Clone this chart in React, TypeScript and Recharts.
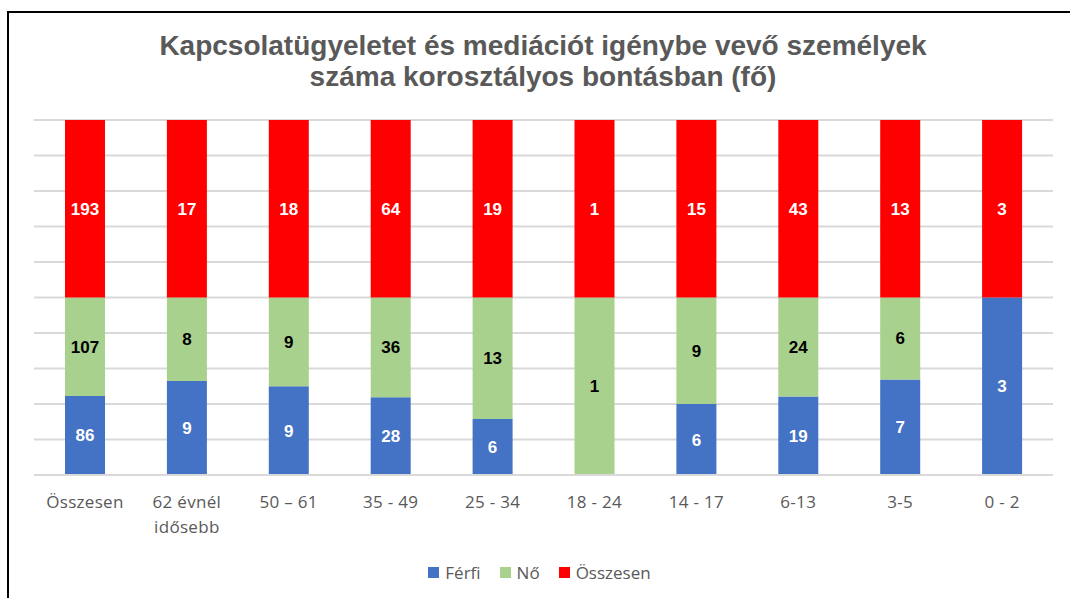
import React from 'react';
import {Bar, BarChart, CartesianGrid, LabelList, XAxis, YAxis} from 'recharts';

const categories = ['Összesen', '62 évnél\nidősebb', '50 – 61', '35 - 49', '25 - 34', '18 - 24', '14 - 17', '6-13', '3-5', '0 - 2'];
const ferfi = [86, 9, 9, 28, 6, 0, 6, 19, 7, 3];
const no = [107, 8, 9, 36, 13, 1, 9, 24, 6, null];
const osszesen = [193, 17, 18, 64, 19, 1, 15, 43, 13, 3];

const series = [
    {key: 'ferfi', name: 'Férfi', color: '#4472C4', labelColor: '#fff'},
    {key: 'no', name: 'Nő', color: '#A9D18E', labelColor: '#000'},
    {key: 'osszesen', name: 'Összesen', color: '#FF0000', labelColor: '#fff'},
];

const data = categories.map((c, i) => ({
    name: c,
    ferfi: ferfi[i],
    no: no[i],
    osszesen: osszesen[i],
}));

const gridTicks = [0, 0.1, 0.2, 0.3, 0.4, 0.5, 0.6, 0.7, 0.8, 0.9, 1];

// category labels can wrap onto a second line
const CategoryTick = ({x, y, payload}) => {
    const lines = String(payload.value).split('\n');
    return (
        <text x={x} y={y} textAnchor="middle" fill="#595959"
              fontFamily="'Open Sans', sans-serif" fontSize={17} letterSpacing={0.3}>
            {lines.map((l, i) => (
                <tspan key={i} x={x} dy={25}>{l}</tspan>
            ))}
        </text>
    );
};

export default function App() {
    return (
        <div style={{position: 'fixed', left: 0, top: 0, width: 1070, height: 598, overflow: 'hidden', background: '#fff'}}>
            <div style={{position: 'absolute', left: 7, top: 11, width: 1200, height: 800,
                borderLeft: '2px solid #000', borderTop: '2px solid #000'}}/>
            <div style={{position: 'absolute', left: 0, top: 30, width: 1086, textAlign: 'center',
                fontFamily: "'Liberation Sans', Arial, sans-serif", fontWeight: 'bold', fontSize: 28,
                lineHeight: '31px', color: '#595959'}}>
                Kapcsolatügyeletet és mediációt igénybe vevő személyek<br/>
                száma korosztályos bontásban (fő)
            </div>
            <div style={{position: 'absolute', left: 0, top: 0}}>
                <BarChart width={1070} height={598} data={data} stackOffset="expand"
                          barSize={40}
                          margin={{top: 120, right: 17, bottom: 93, left: 34}}>
                    <CartesianGrid vertical={false} stroke="#d9d9d9" strokeWidth={2}/>
                    <YAxis hide domain={[0, 1]} ticks={gridTicks}/>
                    <XAxis dataKey="name" interval={0} tickLine={false} height={30}
                           axisLine={{stroke: '#d9d9d9', strokeWidth: 2}}
                           tick={<CategoryTick/>}/>
                    {series.map(s => (
                        <Bar key={s.key} dataKey={s.key} name={s.name} stackId="a" fill={s.color}
                             isAnimationActive={false}>
                            <LabelList dataKey={s.key} position="center" fill={s.labelColor}
                                       fontFamily="'Liberation Sans', Arial, sans-serif"
                                       fontWeight="bold" fontSize={17}/>
                        </Bar>
                    ))}
                </BarChart>
            </div>
            <div style={{position: 'absolute', left: 0, top: 561, width: 1070, display: 'flex',
                justifyContent: 'center', alignItems: 'center', paddingLeft: 14,
                fontFamily: "'Open Sans', sans-serif", fontSize: 17, color: '#595959'}}>
                {series.map(s => (
                    <div key={s.key} style={{display: 'flex', alignItems: 'center', marginRight: 19}}>
                        <span style={{width: 11, height: 11, background: s.color, marginRight: 6, display: 'inline-block'}}/>
                        {s.name}
                    </div>
                ))}
            </div>
        </div>
    );
}
